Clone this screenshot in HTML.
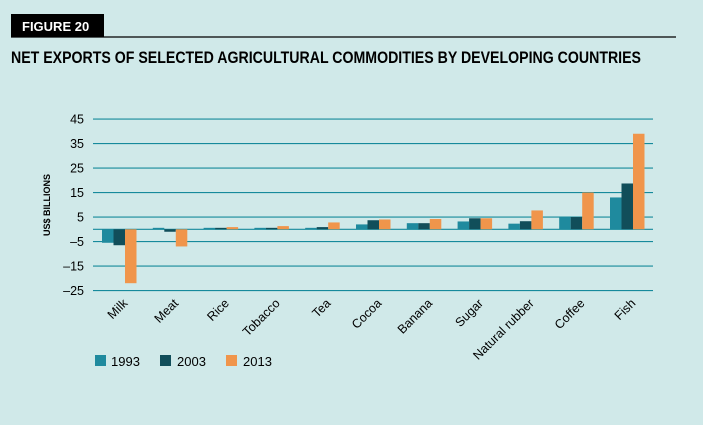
<!DOCTYPE html>
<html><head><meta charset="utf-8"><style>
html,body{margin:0;padding:0;background:#d0e9e9;}
svg{display:block;font-family:"Liberation Sans",sans-serif;}
</style></head><body>
<svg width="703" height="425">
<rect x="0" y="0" width="703" height="425" fill="#d0e9e9"/>
<rect x="11" y="14" width="93" height="23" fill="#000"/>
<text x="22" y="31" fill="#fff" font-size="13" font-weight="bold">FIGURE 20</text>
<line x1="11" y1="37" x2="676" y2="37" stroke="#000" stroke-width="1.3"/>
<text x="11" y="63" font-size="17" font-weight="bold" fill="#000" textLength="630" lengthAdjust="spacingAndGlyphs">NET EXPORTS OF SELECTED AGRICULTURAL COMMODITIES BY DEVELOPING COUNTRIES</text>
<text transform="translate(50,205) rotate(-90)" text-anchor="middle" font-size="9" font-weight="bold">US$ BILLIONS</text>
<g id="grid"></g><g id="bars"></g><g id="labels"></g>
<g>
<rect x="95" y="355" width="11" height="11" fill="#1f8a9e"/>
<text x="111" y="366" font-size="13">1993</text>
<rect x="160" y="355" width="11" height="11" fill="#114e5a"/>
<text x="177" y="366" font-size="13">2003</text>
<rect x="226" y="355" width="11" height="11" fill="#f0954b"/>
<text x="243" y="366" font-size="13">2013</text>
</g>
</svg>
<script>
const categories=["Milk","Meat","Rice","Tobacco","Tea","Cocoa","Banana","Sugar","Natural rubber","Coffee","Fish"];
const v1993=[-5.5,0.6,0.6,0.6,0.6,2,2.5,3.2,2.3,5,13];
const v2003=[-6.5,-1,0.6,0.6,0.9,3.7,2.5,4.5,3.3,5,18.7];
const v2013=[-22,-7,0.9,1.3,2.8,4,4.2,4.5,7.7,15,39];
const yTicks=[45,35,25,15,5,-5,-15,-25];
const NS="http://www.w3.org/2000/svg";
const y=v=>229.3-v*2.45;
const x0=102, step=50.8, bw=11.5;
const gx=x=>x0+x*step;
const grid=document.getElementById('grid');
yTicks.forEach(t=>{
 const l=document.createElementNS(NS,'line');
 l.setAttribute('x1',93);l.setAttribute('x2',653);l.setAttribute('y1',y(t));l.setAttribute('y2',y(t));
 l.setAttribute('stroke','#168a9c');l.setAttribute('stroke-width','1.2');
 
 
 grid.appendChild(l);
 const tx=document.createElementNS(NS,'text');
 tx.setAttribute('x',84);tx.setAttribute('y',y(t)+4.5);tx.setAttribute('text-anchor','end');tx.setAttribute('font-size','12.5');
 tx.textContent=t<0?'\u2013'+(-t):t;
 
 
 grid.appendChild(tx);
});
const bars=document.getElementById('bars');
const series=[[v1993,'#1f8a9e'],[v2003,'#114e5a'],[v2013,'#f0954b']];
categories.forEach((c,i)=>{
 series.forEach((s,j)=>{
  const v=s[0][i];
  const r=document.createElementNS(NS,'rect');
  r.setAttribute('x',gx(i)+j*bw);r.setAttribute('width',bw);
  r.setAttribute('y',Math.min(y(v),y(0)));r.setAttribute('height',Math.abs(y(v)-y(0)));
  r.setAttribute('fill',s[1]);
  
  
  bars.appendChild(r);
 });
 const t=document.createElementNS(NS,'text');
 const cx=gx(i)+bw*1.5+9;
 t.setAttribute('transform','translate('+cx+',304) rotate(-45)');
 t.setAttribute('text-anchor','end');t.setAttribute('font-size','12.5');
 t.textContent=c;
 
 
 document.getElementById('labels').appendChild(t);
});
const zl=document.createElementNS(NS,'line');
zl.setAttribute('x1',93);zl.setAttribute('x2',653);zl.setAttribute('y1',y(0));zl.setAttribute('y2',y(0));
zl.setAttribute('stroke','#168a9c');zl.setAttribute('stroke-width','1.2');


grid.appendChild(zl);
</script>
</body></html>
